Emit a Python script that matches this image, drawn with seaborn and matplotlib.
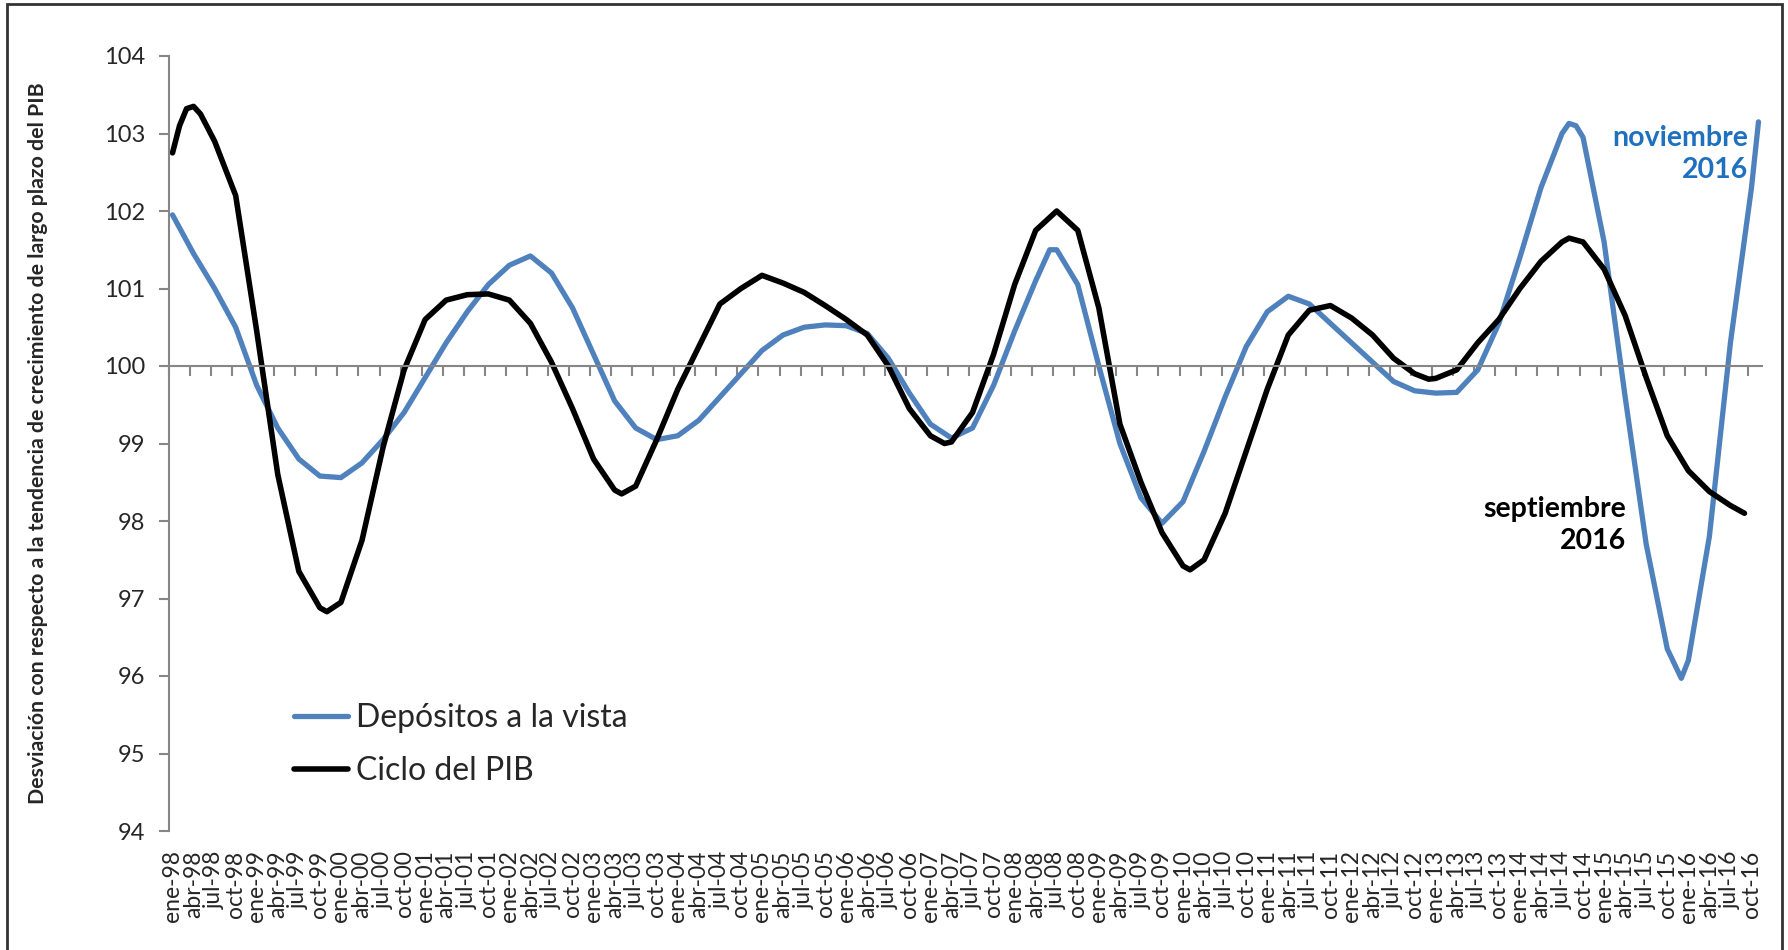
import numpy as np
import pandas as pd
import matplotlib
matplotlib.use("Agg")
import matplotlib.pyplot as plt
from matplotlib.patches import Rectangle
import seaborn as sns

# monthly category axis ene-98 .. nov-16
mes = ['ene', 'feb', 'mar', 'abr', 'may', 'jun', 'jul', 'ago', 'sep', 'oct', 'nov', 'dic']
categorias = [f"{m}-{a % 100:02d}" for a in range(1998, 2017) for m in mes][:227]

# Depósitos a la vista
dep_meses = ['ene-98', 'abr-98', 'jul-98', 'oct-98', 'ene-99', 'abr-99', 'jul-99', 'oct-99',
             'ene-00', 'abr-00', 'jul-00', 'oct-00', 'ene-01', 'abr-01', 'jul-01', 'oct-01',
             'ene-02', 'abr-02', 'jul-02', 'oct-02', 'ene-03', 'abr-03', 'jul-03', 'oct-03',
             'ene-04', 'abr-04', 'jul-04', 'oct-04', 'ene-05', 'abr-05', 'jul-05', 'oct-05',
             'ene-06', 'abr-06', 'jul-06', 'oct-06', 'ene-07', 'abr-07', 'jul-07', 'oct-07',
             'ene-08', 'abr-08', 'jun-08', 'jul-08', 'oct-08', 'ene-09', 'abr-09', 'jul-09',
             'oct-09', 'ene-10', 'abr-10', 'jul-10', 'oct-10', 'ene-11', 'abr-11', 'jul-11',
             'oct-11', 'ene-12', 'abr-12', 'jul-12', 'oct-12', 'ene-13', 'abr-13', 'jul-13',
             'oct-13', 'ene-14', 'abr-14', 'jul-14', 'ago-14', 'sep-14', 'oct-14', 'ene-15',
             'abr-15', 'jul-15', 'oct-15', 'dic-15', 'ene-16', 'abr-16', 'jul-16', 'oct-16',
             'nov-16']
dep_vals = [101.95, 101.45, 101.0, 100.5, 99.75, 99.2, 98.8, 98.58,
            98.56, 98.75, 99.05, 99.4, 99.85, 100.3, 100.7, 101.05,
            101.3, 101.42, 101.2, 100.75, 100.15, 99.55, 99.2, 99.05,
            99.1, 99.3, 99.6, 99.9, 100.2, 100.4, 100.5, 100.53,
            100.52, 100.42, 100.1, 99.65, 99.25, 99.07, 99.2, 99.75,
            100.45, 101.1, 101.5, 101.5, 101.05, 100.0, 99.0, 98.3,
            97.97, 98.25, 98.9, 99.6, 100.25, 100.7, 100.9, 100.8,
            100.55, 100.3, 100.05, 99.8, 99.68, 99.65, 99.66, 99.95,
            100.55, 101.4, 102.3, 103.0, 103.13, 103.1, 102.95, 101.6,
            99.6, 97.7, 96.35, 95.97, 96.2, 97.8, 100.3, 102.3,
            103.15]

# Ciclo del PIB
pib_meses = ['ene-98', 'feb-98', 'mar-98', 'abr-98', 'may-98', 'jul-98', 'oct-98', 'ene-99',
             'abr-99', 'jul-99', 'oct-99', 'nov-99', 'ene-00', 'abr-00', 'jul-00', 'oct-00',
             'ene-01', 'abr-01', 'jul-01', 'oct-01', 'ene-02', 'abr-02', 'jul-02', 'oct-02',
             'ene-03', 'abr-03', 'may-03', 'jul-03', 'oct-03', 'ene-04', 'abr-04', 'jul-04',
             'oct-04', 'ene-05', 'abr-05', 'jul-05', 'oct-05', 'ene-06', 'abr-06', 'jul-06',
             'oct-06', 'ene-07', 'mar-07', 'abr-07', 'jul-07', 'oct-07', 'ene-08', 'abr-08',
             'jul-08', 'oct-08', 'ene-09', 'abr-09', 'jul-09', 'oct-09', 'ene-10', 'feb-10',
             'abr-10', 'jul-10', 'oct-10', 'ene-11', 'abr-11', 'jul-11', 'oct-11', 'ene-12',
             'abr-12', 'jul-12', 'oct-12', 'dic-12', 'ene-13', 'abr-13', 'jul-13', 'oct-13',
             'ene-14', 'abr-14', 'jul-14', 'ago-14', 'oct-14', 'ene-15', 'abr-15', 'jul-15',
             'oct-15', 'ene-16', 'abr-16', 'jul-16', 'sep-16']
pib_vals = [102.75, 103.1, 103.32, 103.35, 103.25, 102.9, 102.2, 100.45,
            98.6, 97.35, 96.88, 96.83, 96.95, 97.75, 98.95, 99.95,
            100.6, 100.85, 100.92, 100.93, 100.85, 100.55, 100.05, 99.45,
            98.8, 98.4, 98.35, 98.45, 99.05, 99.7, 100.25, 100.8,
            101.0, 101.17, 101.07, 100.95, 100.78, 100.6, 100.4, 100.0,
            99.45, 99.1, 99.0, 99.02, 99.4, 100.15, 101.05, 101.75,
            102.0, 101.75, 100.75, 99.25, 98.5, 97.85, 97.42, 97.37,
            97.5, 98.1, 98.9, 99.7, 100.4, 100.72, 100.78, 100.62,
            100.4, 100.1, 99.9, 99.83, 99.84, 99.95, 100.3, 100.6,
            101.0, 101.35, 101.6, 101.65, 101.6, 101.25, 100.65, 99.85,
            99.1, 98.65, 98.38, 98.2, 98.1]

pos = {c: i for i, c in enumerate(categorias)}
dep = pd.DataFrame({"mes": [pos[m] for m in dep_meses], "valor": dep_vals})
pib = pd.DataFrame({"mes": [pos[m] for m in pib_meses], "valor": pib_vals})

sns.set_style("white")
plt.rcParams['font.family'] = ['Lato', 'DejaVu Sans']

fig = plt.figure(figsize=(17.88, 9.5), dpi=100)
ax = fig.add_axes([169 / 1788, 1 - 831 / 950, (1762 - 169) / 1788, (831 - 56) / 950])

azul = '#4F81BD'
sns.lineplot(data=dep, x="mes", y="valor", ax=ax, color=azul, linewidth=3.8,
             label="Depósitos a la vista")
sns.lineplot(data=pib, x="mes", y="valor", ax=ax, color='black', linewidth=4,
             label="Ciclo del PIB")

ax.set_xlim(-0.5, len(categorias) - 0.5)
ax.set_ylim(94, 104)
ax.set_yticks(range(94, 105))
ax.set_xlabel("")
ax.set_ylabel("")

gris = '#868686'
for s in ['top', 'right']:
    ax.spines[s].set_visible(False)
ax.spines['left'].set_color(gris)
ax.spines['left'].set_linewidth(1.5)
ax.spines['bottom'].set_position(('data', 100))
ax.spines['bottom'].set_color(gris)
ax.spines['bottom'].set_linewidth(1.5)

ax.set_xticks(np.arange(-0.5, len(categorias), 3))
ax.tick_params(axis='x', bottom=True, direction='out', length=7, width=1.5, color=gris,
               labelbottom=False)
ax.tick_params(axis='y', left=True, direction='out', length=7, width=1.5, color=gris,
               labelsize=17, pad=10)

sec = ax.secondary_xaxis(0)
sec.set_xticks(range(0, len(categorias), 3), labels=categorias[::3], rotation=90)
sec.tick_params(bottom=True, length=0, pad=14, labelsize=16.5)
sec.spines['bottom'].set_visible(False)

ax.legend(loc='upper left', bbox_to_anchor=(294 / 1788, 1 - 703 / 950),
          bbox_transform=fig.transFigure, frameon=False, fontsize=23,
          handlelength=1.7, handletextpad=0.25, labelspacing=0.72,
          borderpad=0, borderaxespad=0)

fig.text(38 / 1788, 1 - 443 / 950,
         "Desviación con respecto a la tendencia de crecimiento de largo plazo del PIB",
         rotation=90, ha='center', va='center', fontsize=15.3, fontweight='bold')

fig.text(1748 / 1788, 1 - 154 / 950, "noviembre\n2016", ha='right', va='center',
         fontsize=20.5, fontweight='bold', color='#1F70BE', linespacing=1.25)
fig.text(1626 / 1788, 1 - 525 / 950, "septiembre\n2016", ha='right', va='center',
         fontsize=20.5, fontweight='bold', color='black', linespacing=1.25)

fig.add_artist(Rectangle((7 / 1788, -0.02), (1782 - 7) / 1788, 1.02 - 4 / 950,
                         transform=fig.transFigure, fill=False,
                         edgecolor='#333333', linewidth=2))

fig.savefig("out.png", dpi=100)
